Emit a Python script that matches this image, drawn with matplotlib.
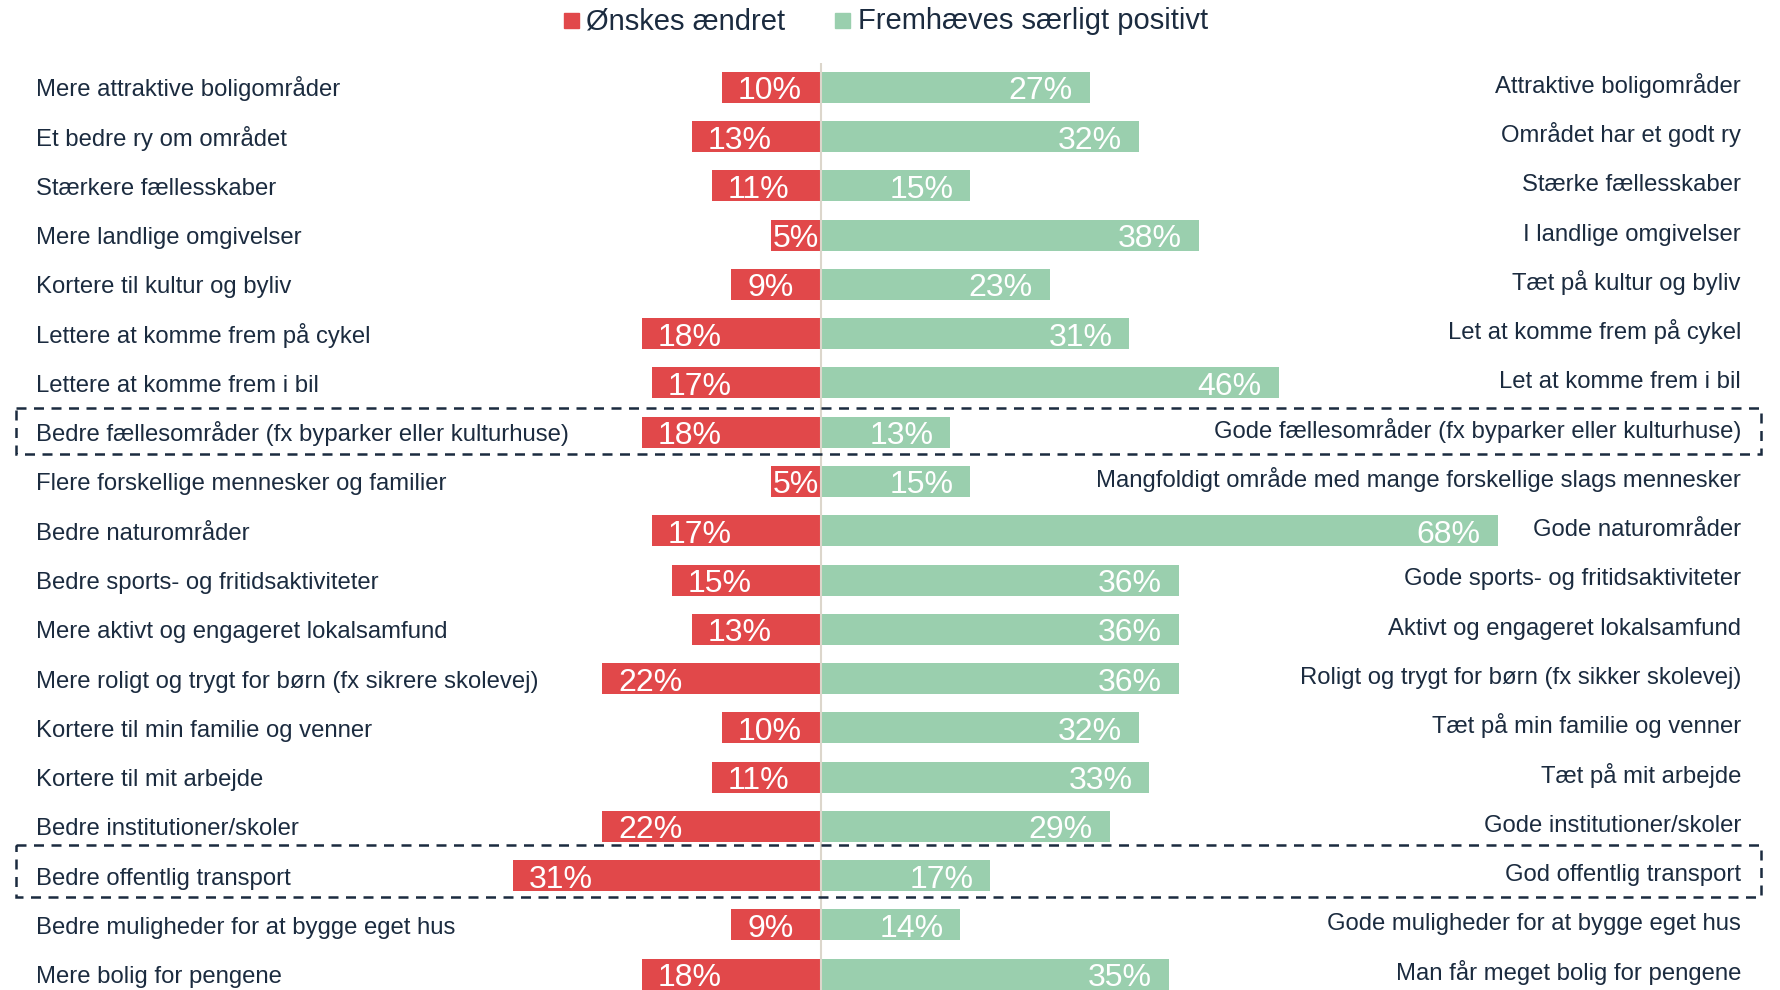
import matplotlib
matplotlib.use("Agg")
import matplotlib.pyplot as plt
from matplotlib.patches import Rectangle
from matplotlib.transforms import blended_transform_factory

plt.rcParams['font.family'] = ['Liberation Sans', 'DejaVu Sans']

# ---------------- data ----------------
left_labels = [
    "Mere attraktive boligområder",
    "Et bedre ry om området",
    "Stærkere fællesskaber",
    "Mere landlige omgivelser",
    "Kortere til kultur og byliv",
    "Lettere at komme frem på cykel",
    "Lettere at komme frem i bil",
    "Bedre fællesområder (fx byparker eller kulturhuse)",
    "Flere forskellige mennesker og familier",
    "Bedre naturområder",
    "Bedre sports- og fritidsaktiviteter",
    "Mere aktivt og engageret lokalsamfund",
    "Mere roligt og trygt for børn (fx sikrere skolevej)",
    "Kortere til min familie og venner",
    "Kortere til mit arbejde",
    "Bedre institutioner/skoler",
    "Bedre offentlig transport",
    "Bedre muligheder for at bygge eget hus",
    "Mere bolig for pengene",
]
right_labels = [
    "Attraktive boligområder",
    "Området har et godt ry",
    "Stærke fællesskaber",
    "I landlige omgivelser",
    "Tæt på kultur og byliv",
    "Let at komme frem på cykel",
    "Let at komme frem i bil",
    "Gode fællesområder (fx byparker eller kulturhuse)",
    "Mangfoldigt område med mange forskellige slags mennesker",
    "Gode naturområder",
    "Gode sports- og fritidsaktiviteter",
    "Aktivt og engageret lokalsamfund",
    "Roligt og trygt for børn (fx sikker skolevej)",
    "Tæt på min familie og venner",
    "Tæt på mit arbejde",
    "Gode institutioner/skoler",
    "God offentlig transport",
    "Gode muligheder for at bygge eget hus",
    "Man får meget bolig for pengene",
]
oenskes_aendret = [10, 13, 11, 5, 9, 18, 17, 18, 5, 17, 15, 13, 22, 10, 11, 22, 31, 9, 18]
fremhaeves_positivt = [27, 32, 15, 38, 23, 31, 46, 13, 15, 68, 36, 36, 36, 32, 33, 29, 17, 14, 35]
series_names = ["Ønskes ændret", "Fremhæves særligt positivt"]
highlight_rows = [7, 16]

# ---------------- style ----------------
RED = '#E1484A'
GREEN = '#9ACFAE'
NAVY = '#1B2B3F'
LINE = '#DCD6CB'

W, H = 1780, 990
fig = plt.figure(figsize=(W / 100, H / 100), dpi=100)
ax = fig.add_axes([0, 0, 1, 1])
ax.axis('off')

px_per_pct = 9.95
x0 = 821
row0 = 87.4
row_px = 49.26
ax.set_xlim(-x0 / px_per_pct, (W - x0) / px_per_pct)
ax.set_ylim((H - row0) / row_px, -row0 / row_px)

def py(p):
    return p / row_px

def pxx(p):
    return p / px_per_pct

n = len(left_labels)
ys = list(range(n))
bar_h = 31 / row_px

ax.barh(ys, [-v for v in oenskes_aendret], height=bar_h, color=RED, zorder=2)
ax.barh(ys, fremhaeves_positivt, height=bar_h, color=GREEN, zorder=2)

# center line
ax.plot([0, 0], [py(63 - row0), (H - row0) / row_px], color=LINE, lw=1.5, zorder=3,
        solid_capstyle='butt')

bt = blended_transform_factory(ax.transAxes, ax.transData)

VAL_FS = 23
LAB_FS = 17.2
for i in ys:
    r = oenskes_aendret[i]
    g = fremhaeves_positivt[i]
    # value labels
    if r >= 7:
        ax.text(-r + pxx(16), i + py(12), f"{r}%", ha='left', va='baseline',
                color='white', fontsize=VAL_FS, zorder=4)
    else:
        ax.text(-r / 2, i + py(12), f"{r}%", ha='center', va='baseline',
                color='white', fontsize=VAL_FS, zorder=4)
    ax.text(g - pxx(17), i + py(12), f"{g}%", ha='right', va='baseline',
            color='white', fontsize=VAL_FS, zorder=4)
    # category labels
    ax.text(36 / W, i + py(9), left_labels[i], transform=bt, ha='left',
            va='baseline', color=NAVY, fontsize=LAB_FS)
    ax.text(1741 / W, i + py(5.5), right_labels[i], transform=bt, ha='right',
            va='baseline', color=NAVY, fontsize=LAB_FS)

# highlight boxes
box_ext = {7: (-0.50, 0.44), 16: (-0.62, 0.44)}
for i in highlight_rows:
    top, bot = box_ext.get(i, (-0.55, 0.44))
    rect = Rectangle((16 / W, i + top), (1761 - 16) / W, bot - top, transform=bt,
                     fill=False, edgecolor=NAVY, lw=1.8, linestyle=(0, (4, 3)),
                     zorder=5)
    ax.add_patch(rect)

# legend (manual, in figure pixels)
def fx(p):
    return p / W

def fy(p):
    return 1 - p / H

for xs, col, name, tx in [(564, RED, series_names[0], 586),
                          (835, GREEN, series_names[1], 858)]:
    fig.patches.append(Rectangle((fx(xs), fy(27.5)), 14.7 / W, 14.5 / H,
                                 transform=fig.transFigure, color=col))
    fig.text(fx(tx), fy(29.3), name, ha='left', va='baseline', color=NAVY,
             fontsize=21)

fig.savefig('out.png', dpi=100)
